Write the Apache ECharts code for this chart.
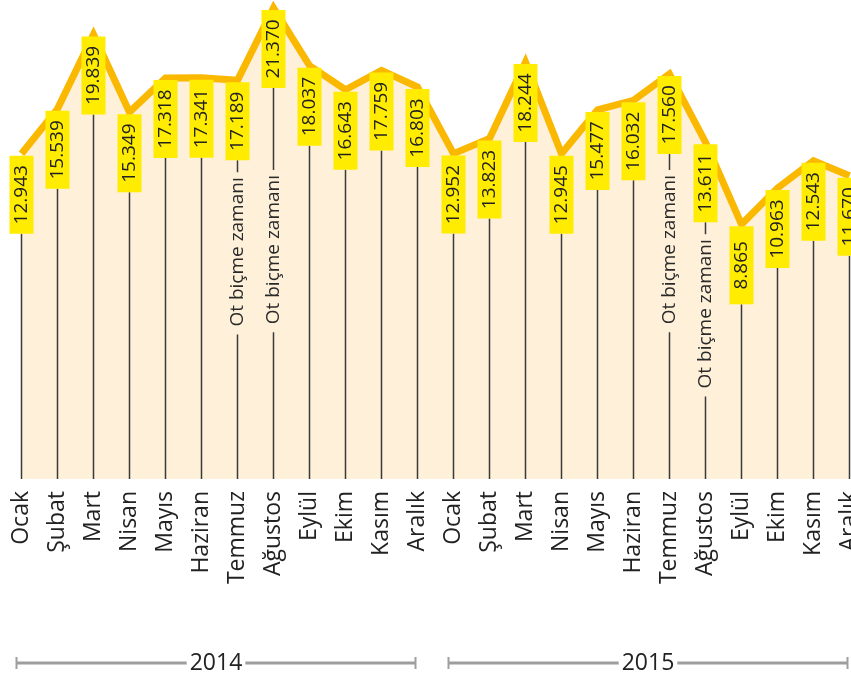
<!DOCTYPE html>
<html>
<head>
<meta charset="utf-8">
<script src="https://cdn.jsdelivr.net/npm/echarts@6/dist/echarts.min.js"></script>
<style>
  html, body { margin: 0; padding: 0; background: #ffffff; }
  #chart { width: 851px; height: 680px; }
</style>
</head>
<body>
<div id="chart"></div>
<script>
// ---- data ----
var months = ['Ocak', 'Şubat', 'Mart', 'Nisan', 'Mayıs', 'Haziran', 'Temmuz', 'Ağustos', 'Eylül', 'Ekim', 'Kasım', 'Aralık'];
var years = ['2014', '2015'];
var values2014 = [12943, 15539, 19839, 15349, 17318, 17341, 17189, 21370, 18037, 16643, 17759, 16803];
var values2015 = [12952, 13823, 18244, 12945, 15477, 16032, 17560, 13611, 8865, 10963, 12543, 11670];
var mowingIndices = [6, 7, 18, 19];
var mowingLabel = 'Ot biçme zamanı';

// ---- derived ----
var categories = months.concat(months);
var values = values2014.concat(values2015);
var yMin = -5855, yMax = 21830;
var fontFamily = '"Open Sans", "Noto Sans", sans-serif';

function fmt(v) { return (v / 1000).toFixed(3); }

var pointData = values.map(function (v, i) { return [i, v]; });
var yearData = years.map(function (y, k) { return [k * months.length, (k + 1) * months.length - 1]; });

var chart = echarts.init(document.getElementById('chart'), null, { renderer: 'canvas' });

chart.setOption({
  animation: false,
  backgroundColor: '#ffffff',
  grid: { left: 21.5, right: 1.5, top: 0, bottom: 201, containLabel: false, outerBoundsMode: 'none' },
  xAxis: {
    type: 'category',
    data: categories,
    boundaryGap: false,
    axisLine: { show: false },
    axisTick: { show: false },
    splitLine: { show: false },
    axisLabel: {
      rotate: 90,
      interval: 0,
      margin: 12,
      color: '#222222',
      fontSize: 23,
      fontFamily: fontFamily,
      hideOverlap: false
    }
  },
  yAxis: { type: 'value', min: yMin, max: yMax, show: false, splitLine: { show: false } },
  series: [
    {
      type: 'line',
      data: values,
      symbol: 'none',
      smooth: false,
      z: 2,
      lineStyle: { color: '#FBB800', width: 7, join: 'miter', miterLimit: 20 },
      areaStyle: { color: '#FEF0D9', opacity: 1, origin: 'start' }
    },
    {
      type: 'custom',
      data: pointData,
      z: 3,
      clip: false,
      renderItem: function (params, api) {
        var i = api.value(0), v = api.value(1);
        var p = api.coord([i, v]);
        var base = api.coord([i, yMin])[1];
        var boxW = 24, boxH = 78;
        var boxTop = p[1] + 2;
        var boxBottom = boxTop + boxH;
        var children = [
          { type: 'line', shape: { x1: p[0], y1: boxBottom, x2: p[0], y2: base },
            style: { stroke: '#3a3a3a', lineWidth: 1.5 } },
          { type: 'rect', shape: { x: p[0] - boxW / 2, y: boxTop, width: boxW, height: boxH },
            style: { fill: '#FFEC00' } },
          { type: 'text', x: p[0], y: boxTop + boxH / 2, rotation: Math.PI / 2,
            style: { text: fmt(v), fill: '#222222', font: '19px ' + fontFamily,
                     align: 'center', verticalAlign: 'middle' } }
        ];
        if (mowingIndices.indexOf(i) >= 0) {
          var anchor = Math.max(boxBottom + 12, 170);
          children.push({
            type: 'text', x: p[0], y: anchor, rotation: Math.PI / 2,
            style: { text: mowingLabel, fill: '#2a2a2a', font: '19px ' + fontFamily,
                     align: 'right', verticalAlign: 'middle',
                     backgroundColor: '#FEF0D9', padding: [1, 5, 1, 8] }
          });
        }
        return { type: 'group', children: children };
      }
    },
    {
      type: 'custom',
      data: yearData,
      z: 3,
      clip: false,
      renderItem: function (params, api) {
        var s = api.coord([api.value(0), 0])[0] - 5;
        var e = api.coord([api.value(1), 0])[0] - 2;
        var y = 663;
        var col = '#9e9e9e';
        return {
          type: 'group',
          children: [
            { type: 'line', shape: { x1: s, y1: y, x2: e, y2: y }, style: { stroke: col, lineWidth: 3 } },
            { type: 'line', shape: { x1: s, y1: y - 6, x2: s, y2: y + 6 }, style: { stroke: col, lineWidth: 2 } },
            { type: 'line', shape: { x1: e, y1: y - 6, x2: e, y2: y + 6 }, style: { stroke: col, lineWidth: 2 } },
            { type: 'text', x: (s + e) / 2, y: y, style: {
                text: years[params.dataIndex], fill: '#222222', font: '23px ' + fontFamily,
                align: 'center', verticalAlign: 'middle', backgroundColor: '#ffffff', padding: [0, 3, 0, 3] } }
          ]
        };
      }
    }
  ]
});
</script>
</body>
</html>
